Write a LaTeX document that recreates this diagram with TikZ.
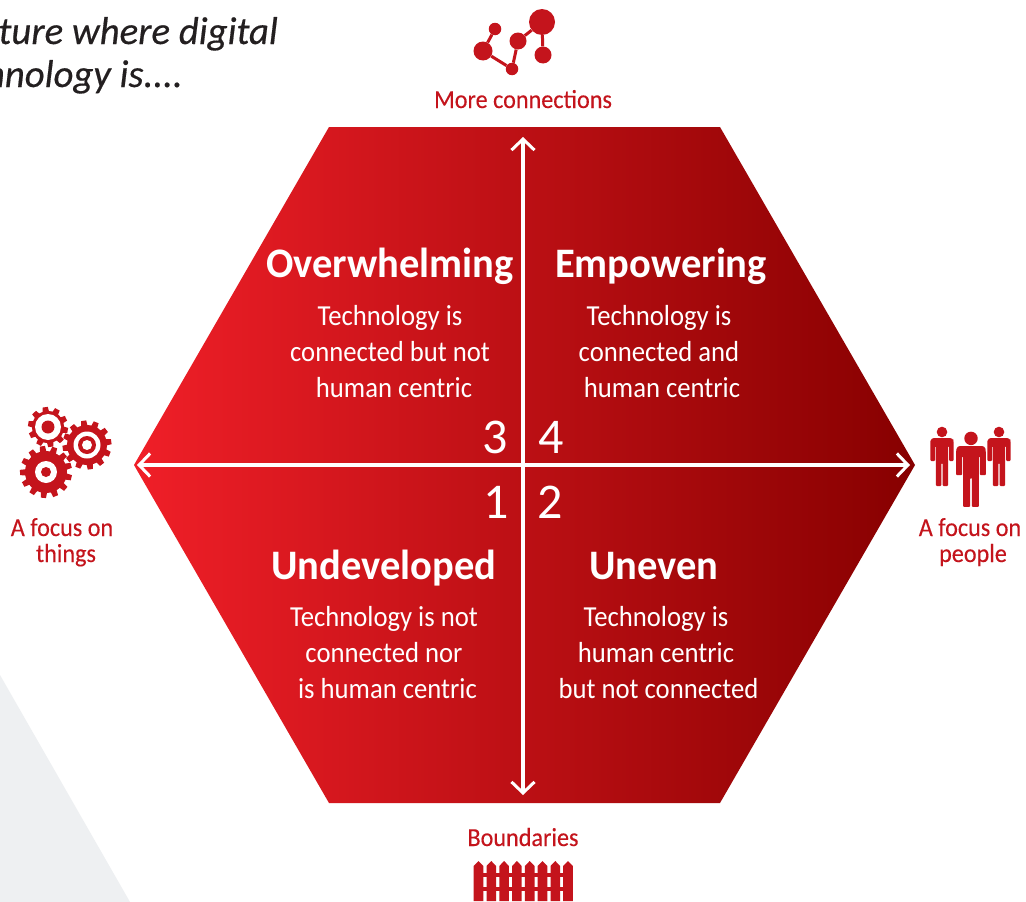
\documentclass[tikz,border=0pt]{standalone}
\usepackage{fontspec}
\setmainfont{Carlito}
\newfontfamily\titlefont[FakeStretch=0.965]{Carlito}
\newfontfamily\bodyfont[FakeStretch=0.92]{Carlito}
\newfontfamily\labfont[FakeStretch=0.93,FakeBold=0.25]{Carlito}
\newfontfamily\headfont[FakeBold=0.4]{Carlito}
\usetikzlibrary{arrows.meta}
\definecolor{icon}{HTML}{C4141C}
\definecolor{hexL}{HTML}{F01F28}
\definecolor{hexR}{HTML}{870000}
\definecolor{ink}{HTML}{231F20}
\definecolor{pale}{HTML}{EEF0F2}
\newcommand{\fs}[2]{\fontsize{#1}{#2}\selectfont}
\newcommand{\gearicon}[5]{% x y outer root teeth
  \fill[icon] (#1,#2) circle[radius=#4];
  \foreach \a in {1,...,#5}{
    \fill[icon,shift={(#1,#2)},rotate=360*\a/#5+8]
      (-3.2,-#4+1) -- (-2.6,-#3) -- (2.6,-#3) -- (3.2,-#4+1) -- cycle;
  }
}
\newcommand{\personicon}[3]{% x top-of-shoulder scale
  \begin{scope}[shift={(#1,#2)},scale=#3]
    \fill[icon] (0,-6) circle[radius=5.3];
    \fill[icon,rounded corners=1pt]
      (-11.7,23) -- (-11.7,4) [rounded corners=3pt]-- (-11,0) -- (11,0) -- (11.7,4)
      [rounded corners=1pt]-- (11.7,23) -- (7,23) -- (7,8) -- (6.2,8) -- (6.2,48) -- (0.6,48) -- (0.6,25)
      -- (-0.6,25) -- (-0.6,48) -- (-6.2,48) -- (-6.2,8) -- (-7,8) -- (-7,23) -- cycle;
  \end{scope}
}
\newcommand{\picket}[1]{%
  \fill[icon] (#1-4.8,901) -- (#1-4.8,866) -- (#1,861) -- (#1+4.8,866) -- (#1+4.8,901) -- cycle;
}
\tikzset{
  x=1pt,y=-1pt,
  title/.style={white,font=\titlefont\fs{42}{44}\bfseries,anchor=base,inner sep=0pt},
  body/.style={white,font=\bodyfont\fs{29}{36},align=center,anchor=center,inner sep=0pt},
  num/.style={white,font=\fs{50}{50},anchor=base,inner sep=0pt},
  lab/.style={icon,font=\labfont\fs{26}{26},align=center,anchor=base,inner sep=0pt},
  head/.style={ink,font=\headfont\fs{38.8}{43}\itshape,anchor=base east,inner sep=0pt},
  axis/.style={white,line width=3.4pt,{Straight Barb[length=11pt,width=23pt,line width=3pt]}-{Straight Barb[length=11pt,width=23pt,line width=3pt]}},
  netn/.style={circle,fill=icon,inner sep=0pt},
  netl/.style={icon,line width=3pt},
}
\begin{document}
\begin{tikzpicture}
\useasboundingbox (0,0) rectangle (1026,902);
\fill[white] (0,0) rectangle (1026,902);
\fill[pale] (0,675) -- (130,902) -- (0,902) -- cycle;

% heading, cut by the page edge
\node[head] (h1) at (278,44) {ture where digital};
\node[head] (h2) at (183,87) {hnology is....};

% hexagon
\shade[left color=hexL,right color=hexR,middle color=hexL!50!hexR]
  (329,127) -- (720,127) -- (915,465) -- (720,803) -- (329,803) -- (134,465) -- cycle;

% axes
\coordinate (top) at (523,137);
\coordinate (bot) at (523,795);
\coordinate (lft) at (137,465);
\coordinate (rgt) at (910,465);
\draw[axis] (bot) -- (top);
\draw[axis] (lft) -- (rgt);

% quadrant texts
\node[title] (t3) at (390,277) {Overwhelming};
\node[title] (t4) at (661,277) {Empowering};
\node[title] (t1) at (384,579) {Undeveloped};
\node[title] (t2) at (654,579) {Uneven};
\node[body] (b3) at (390,352) {Technology is\\connected but not\\\hspace{8pt}human centric};
\node[body] (b4) at (659,352) {Technology is\\connected and\\\hspace{6pt}human centric};
\node[body] (b1) at (384,653) {Technology is not\\connected nor\\\hspace{7pt}is human centric};
\node[body] (b2) at (656,653) {Technology is\\human centric\\\hspace{5pt}but not connected};
\node[num] (n3) at (495,453) {3};
\node[num] (n4) at (551,453) {4};
\node[num] (n1) at (496,518) {1};
\node[num] (n2) at (550,518) {2};

% outer labels
\node[lab] (mc) at (523,108) {More connections};
\node[lab] (bd) at (523,846) {Boundaries};
\node[lab] (l1) at (62,536) {A focus on};
\node[lab] (l2) at (66,562) {things};
\node[lab] (r1) at (970,536) {A focus on};
\node[lab] (r2) at (973,562) {people};

% network icon
\node[netn,minimum size=26pt] (a) at (542,22) {};
\node[netn,minimum size=17pt] (b) at (543,55) {};
\node[netn,minimum size=17pt] (c) at (518,41) {};
\node[netn,minimum size=12.5pt] (d) at (495,29) {};
\node[netn,minimum size=19pt] (e) at (483,51) {};
\node[netn,minimum size=12.5pt] (f) at (512,69) {};
\draw[netl] (e) -- (d);
\draw[netl] (e) -- (f);
\draw[netl] (f) -- (c);
\draw[netl] (c) -- (a);
\draw[netl] (a) -- (b);

% gears
\gearicon{48}{427}{20}{16}{10}
\fill[white] (48,427) circle[radius=13];
\fill[icon] (48,427) circle[radius=6.5];
\gearicon{87}{445}{24.5}{20}{12}
\fill[white] (87,445) circle[radius=13.5];
\fill[icon] (87,445) circle[radius=9];
\fill[white] (87,445) circle[radius=5];
\gearicon{46}{472}{26}{21}{13}
\fill[white] (46,472) circle[radius=11];
\fill[icon] (46,472) circle[radius=5];

% people
\personicon{942}{438}{1}
\personicon{999}{438}{1}
\personicon{971}{446}{1.27}

% fence
\foreach \p in {478.5,491.3,504.1,516.9,529.7,542.5,555.3,568}{\picket{\p}}
\fill[icon] (478,873) rectangle (568,877);
\fill[icon] (478,887) rectangle (568,891);
\end{tikzpicture}
\end{document}
